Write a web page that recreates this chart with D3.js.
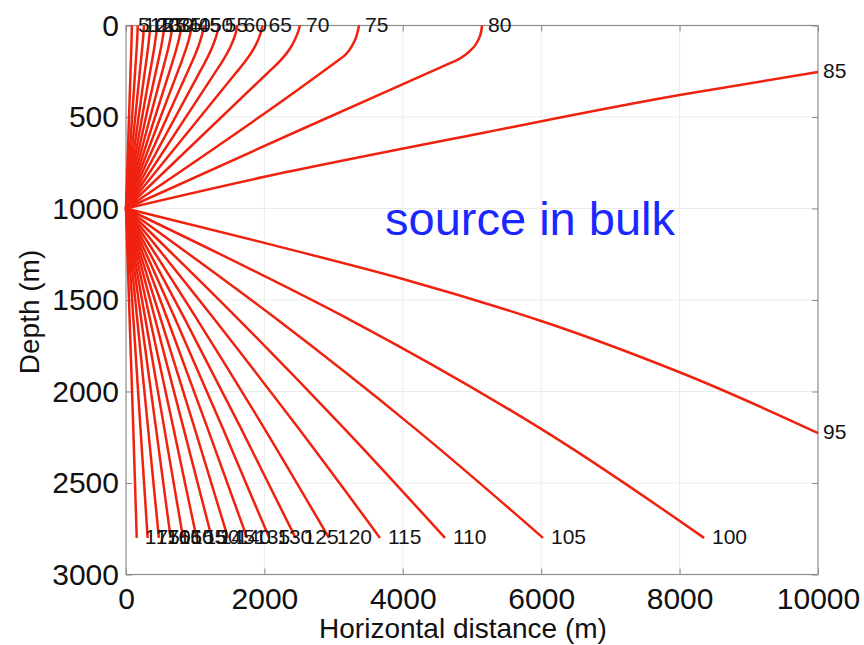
<!DOCTYPE html>
<html>
<head>
<meta charset="utf-8">
<script src="https://cdn.jsdelivr.net/npm/d3@7"></script>
<style>
  body { margin: 0; background: #fff; }
  svg { display: block; }
  text { font-family: "Liberation Sans", Arial, Helvetica, sans-serif; }
</style>
</head>
<body>
<svg id="chart" width="864" height="645"></svg>
<script>
// Axis ticks
const xTicks = [0, 2000, 4000, 6000, 8000, 10000];
const yTicks = [0, 500, 1000, 1500, 2000, 2500, 3000];

// Rays leaving the source at 1000 m depth, labelled by take-off angle (deg from vertical).
// Each ray: [angle, [[horizontal distance m, depth m], ...]]
const upRays = [
  [5,  [[0,1000],[65,260],[70,200],[77,120],[82,50],[85,0]]],
  [10, [[0,1000],[130,260],[141,200],[155,120],[165,50],[170,0]]],
  [15, [[0,1000],[198,260],[214,200],[235,120],[251,50],[259,0]]],
  [20, [[0,1000],[269,260],[291,200],[319,120],[340,50],[351,0]]],
  [25, [[0,1000],[345,260],[373,200],[409,120],[435,50],[449,0]]],
  [30, [[0,1000],[427,260],[462,200],[506,120],[538,50],[554,0]]],
  [35, [[0,1000],[518,260],[560,200],[613,120],[652,50],[671,0]]],
  [40, [[0,1000],[621,260],[671,200],[734,120],[779,50],[801,0]]],
  [45, [[0,1000],[740,260],[800,200],[874,120],[926,50],[950,0]]],
  [50, [[0,1000],[882,260],[953,200],[1040,120],[1099,50],[1126,0]]],
  [55, [[0,1000],[1057,260],[1143,200],[1244,120],[1311,50],[1340,0]]],
  [60, [[0,1000],[1282,260],[1386,200],[1505,120],[1579,50],[1611,0]]],
  [65, [[0,1000],[1587,260],[1716,200],[1857,120],[1939,50],[1973,0]]],
  [70, [[0,1000],[2044,260],[2210,200],[2380,120],[2472,50],[2514,0]]],
  [75, [[0,1000],[2514,343],[3068,190],[3140,170],[3309,79],[3367,0]]],
  [80, [[0,1000],[2514,571],[4700,203],[4783,189],[5014,123],[5116,57],[5145,0]]]
];

const sideRays = [
  [85, [[0,1000],[2000,827],[5116,590],[8000,380],[10000,254]]],
  [95, [[0,1000],[2000,1188],[4000,1385],[6000,1615],[8000,1895],[10000,2227]]]
];

const downRays = [
  [100, [[0,1000],[3197,1600],[5981,2200],[8353,2800]]],
  [105, [[0,1000],[2162,1600],[4170,2200],[6026,2800]]],
  [110, [[0,1000],[1611,1600],[3148,2200],[4610,2800]]],
  [115, [[0,1000],[1266,1600],[2490,2200],[3670,2800]]],
  [120, [[0,1000],[1018,1600],[1996,2200],[2933,2800]]],
  [125, [[0,1000],[844,1600],[1660,2200],[2450,2800]]],
  [130, [[0,1000],[707,1600],[1397,2200],[2070,2800]]],
  [135, [[0,1000],[594,1600],[1178,2200],[1750,2800]]],
  [140, [[0,1000],[499,1600],[991,2200],[1474,2800]]],
  [145, [[0,1000],[418,1600],[831,2200],[1240,2800]]],
  [150, [[0,1000],[344,1600],[685,2200],[1020,2800]]],
  [155, [[0,1000],[278,1600],[553,2200],[825,2800]]],
  [160, [[0,1000],[218,1600],[433,2200],[645,2800]]],
  [165, [[0,1000],[161,1600],[319,2200],[475,2800]]],
  [170, [[0,1000],[106,1600],[209,2200],[313,2800]]],
  [175, [[0,1000],[52,1600],[105,2200],[155,2800]]]
];

const annotation = "source in bulk";

const svg = d3.select("#chart");
const plot = { left: 126, right: 818, top: 25.5, bottom: 574.5 };

const x = d3.scaleLinear().domain([0, 10000]).range([plot.left, plot.right]);
const y = d3.scaleLinear().domain([0, 3000]).range([plot.top, plot.bottom]);

// light grid
const grid = svg.append("g").attr("stroke", "#ebebeb").attr("stroke-width", 1);
grid.selectAll("line.gx").data(xTicks.slice(1, -1)).join("line")
  .attr("x1", d => x(d)).attr("x2", d => x(d))
  .attr("y1", plot.top).attr("y2", plot.bottom);
grid.selectAll("line.gy").data(yTicks.slice(1, -1)).join("line")
  .attr("x1", plot.left).attr("x2", plot.right)
  .attr("y1", d => y(d)).attr("y2", d => y(d));

// axes with inward ticks
const tickColor = "#8c8c8c";
function styleAxis(g, showText) {
  g.select(".domain").remove();
  g.selectAll(".tick line").attr("stroke", tickColor);
  g.selectAll(".tick text")
    .attr("fill", "#111")
    .style("font-size", "30px")
    .style("display", showText ? null : "none");
}
svg.append("g").attr("transform", `translate(0,${plot.bottom})`)
  .call(d3.axisBottom(x).tickValues(xTicks).tickFormat(d3.format("d")).tickSizeInner(-6).tickSizeOuter(0).tickPadding(13))
  .call(g => styleAxis(g, true));
svg.append("g").attr("transform", `translate(${plot.left},0)`)
  .call(d3.axisLeft(y).tickValues(yTicks).tickFormat(d3.format("d")).tickSizeInner(-6).tickSizeOuter(0).tickPadding(7))
  .call(g => styleAxis(g, true));
svg.append("g").attr("transform", `translate(0,${plot.top})`)
  .call(d3.axisTop(x).tickValues(xTicks).tickSizeInner(-6).tickSizeOuter(0))
  .call(g => styleAxis(g, false));
svg.append("g").attr("transform", `translate(${plot.right},0)`)
  .call(d3.axisRight(y).tickValues(yTicks).tickSizeInner(-6).tickSizeOuter(0))
  .call(g => styleAxis(g, false));

// frame
svg.append("rect")
  .attr("x", plot.left).attr("y", plot.top)
  .attr("width", plot.right - plot.left).attr("height", plot.bottom - plot.top)
  .attr("fill", "none").attr("stroke", tickColor).attr("stroke-width", 1.2);

// rays
const line = d3.line()
  .x(d => x(d[0])).y(d => y(d[1]))
  .curve(d3.curveMonotoneY);

const allRays = upRays.concat(sideRays, downRays);
svg.append("g")
  .selectAll("path").data(allRays).join("path")
  .attr("d", d => line(d[1].slice().sort((a, b) => a[1] - b[1])))
  .attr("fill", "none")
  .attr("stroke", "#f0220f")
  .attr("stroke-width", 2.5)
  .attr("stroke-linejoin", "round");

// angle labels at the end of each ray
const labels = svg.append("g").attr("fill", "#141414").style("font-size", "21px");
function addLabels(rays, dx) {
  labels.selectAll(null).data(rays).join("text")
    .attr("x", d => x(d[1][d[1].length - 1][0]) + dx)
    .attr("y", d => y(d[1][d[1].length - 1][1]) - 1)
    .attr("dy", "0.35em")
    .text(d => d[0]);
}
addLabels(upRays, 6);
addLabels(sideRays, 5);
addLabels(downRays, 8);

// annotation
svg.append("text")
  .attr("x", 385).attr("y", 235)
  .attr("fill", "#1a28ff")
  .style("font-size", "47px")
  .text(annotation);

// axis titles
svg.append("text")
  .attr("x", 463).attr("y", 638)
  .attr("text-anchor", "middle")
  .attr("fill", "#111")
  .style("font-size", "28px")
  .text("Horizontal distance (m)");
svg.append("text")
  .attr("transform", "translate(39,312) rotate(-90)")
  .attr("text-anchor", "middle")
  .attr("fill", "#111")
  .style("font-size", "28px")
  .text("Depth (m)");
</script>
</body>
</html>
